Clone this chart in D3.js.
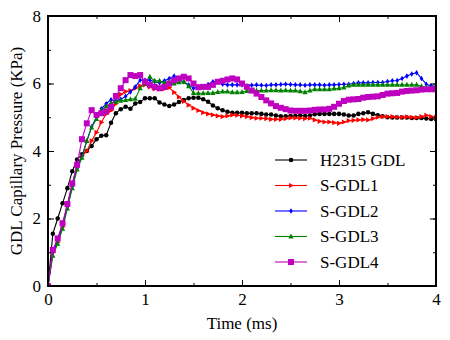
<!DOCTYPE html>
<meta charset="utf-8">
<style>
body { margin: 0; background: #fff; }
svg text { font-family: "Liberation Serif", serif; }
</style>
<body>
<svg id="chart" width="450" height="340"></svg>
<script src="https://d3js.org/d3.v7.min.js"></script>
<script>

// time axis, sampled every 0.05 ms
const time = d3.range(0, 81).map(i => +(i * 0.05).toFixed(2))

const h2315 = [0,1.55,2.0,2.45,2.9,3.4,3.75,3.9,4.0,4.15,4.35,4.45,4.47,4.84,5.12,5.24,5.31,5.25,5.41,5.45,
  5.56,5.56,5.56,5.44,5.38,5.33,5.38,5.45,5.51,5.56,5.58,5.58,5.53,5.46,5.35,5.27,5.21,5.16,5.13,5.13,
  5.13,5.12,5.12,5.12,5.1,5.08,5.08,5.05,5.03,5.03,5.04,5.04,5.05,5.04,5.05,5.09,5.1,5.1,5.1,5.1,
  5.1,5.08,5.05,5.05,5.1,5.12,5.15,5.1,5.06,5.03,5.0,4.99,4.99,4.99,4.99,4.98,4.98,4.98,4.96,4.95,4.94]

const sgdl1 = [0,1.0,1.3,1.75,2.4,3.0,3.55,3.85,4.0,4.3,4.55,4.85,5.1,5.2,5.4,5.68,5.76,5.79,5.86,5.93,
  5.96,5.9,5.84,5.83,5.84,5.88,5.74,5.6,5.47,5.36,5.27,5.2,5.14,5.1,5.07,5.04,5.02,5.04,5.07,5.06,
  5.04,5.02,4.99,4.97,4.97,4.96,4.94,4.94,4.94,4.96,4.98,4.98,4.97,4.96,4.97,4.92,4.88,4.86,4.86,4.84,
  4.82,4.86,4.9,4.91,4.92,4.93,4.92,4.96,5.0,5.02,5.02,5.02,5.0,5.0,5.01,5.0,4.99,5.02,5.06,5.02,5.0]

const sgdl2 = [0,1.0,1.35,1.8,2.35,2.95,3.5,3.85,4.3,4.72,5.0,5.25,5.4,5.52,5.48,5.53,5.62,5.75,5.9,6.1,
  6.1,6.1,6.05,6.02,6.08,6.15,6.22,6.1,6.05,5.96,5.86,5.9,5.9,5.97,6.05,6.06,5.98,5.96,5.96,5.96,
  5.96,5.93,5.95,5.96,5.95,5.94,5.96,5.96,5.97,5.98,5.97,5.96,5.96,5.95,5.96,5.96,5.96,5.95,5.96,5.96,
  5.97,5.98,5.98,6.0,6.02,6.02,6.02,6.03,6.03,6.03,6.06,6.08,6.09,6.15,6.22,6.28,6.32,6.15,5.98,5.93,5.92]

const sgdl3 = [0,0.9,1.25,1.7,2.3,2.9,3.45,3.8,4.3,4.7,4.95,5.2,5.32,5.42,5.46,5.49,5.51,5.53,5.55,5.86,
  6.0,6.2,6.08,6.08,6.02,6.05,6.0,6.04,6.05,5.92,5.72,5.71,5.71,5.72,5.72,5.75,5.76,5.76,5.74,5.74,
  5.75,5.78,5.79,5.79,5.79,5.79,5.8,5.8,5.79,5.8,5.79,5.79,5.77,5.74,5.79,5.83,5.83,5.83,5.83,5.85,
  5.86,5.88,5.94,5.96,5.96,5.96,5.96,5.96,5.96,5.96,5.96,5.96,5.96,5.96,5.96,5.96,5.96,5.92,5.88,5.86,5.85]

const sgdl4 = [0,1.07,1.41,1.86,2.43,3.04,3.59,4.35,4.82,5.21,5.07,5.12,5.17,5.31,5.63,5.86,6.1,6.25,6.22,6.25,
  6.05,5.96,5.9,5.86,5.9,6.0,6.1,6.15,6.2,6.15,6.0,5.89,5.9,5.9,5.96,6.05,6.08,6.12,6.15,6.12,
  6.0,5.9,5.79,5.7,5.6,5.5,5.41,5.33,5.28,5.24,5.2,5.19,5.19,5.19,5.2,5.22,5.23,5.23,5.25,5.31,
  5.4,5.48,5.52,5.53,5.54,5.58,5.6,5.61,5.62,5.66,5.7,5.71,5.72,5.76,5.78,5.79,5.8,5.82,5.83,5.83,5.83]

const seriesNames = ["H2315 GDL", "S-GDL1", "S-GDL2", "S-GDL3", "S-GDL4"]
const xTicks = [0, 1, 2, 3, 4]
const yTicks = [0, 2, 4, 6, 8]

const series = [
  {name: seriesNames[0], values: h2315, color: "#000000", marker: "circle"},
  {name: seriesNames[1], values: sgdl1, color: "#ff0000", marker: "tri-right"},
  {name: seriesNames[2], values: sgdl2, color: "#0000ff", marker: "diamond"},
  {name: seriesNames[3], values: sgdl3, color: "#008000", marker: "tri-up"},
  {name: seriesNames[4], values: sgdl4, color: "#bf00bf", marker: "square"}
]

// no DejaVu Serif in the sandbox (it falls back to a sans), so use Liberation Serif a bit bigger
const font = "Liberation Serif, serif"
const fontSize = 17

const margin = {left: 48, right: 14, top: 16, bottom: 54}
const width = 450, height = 340

const svg = d3.select("#chart").attr("font-family", font)

const x = d3.scaleLinear().domain([0, 4]).range([margin.left, width - margin.right])
const y = d3.scaleLinear().domain([0, 8]).range([height - margin.bottom, margin.top])

svg.append("defs").append("clipPath").attr("id", "clip")
  .append("rect")
  .attr("x", x(0)).attr("y", y(8))
  .attr("width", x(4) - x(0)).attr("height", y(0) - y(8))

function markerPath(type) {
  switch (type) {
    case "circle": return d3.symbol(d3.symbolCircle, 16)()
    case "tri-right": return "M3,0L-2,-2.6L-2,2.6Z"
    case "diamond": return "M0,-2.8L1.8,0L0,2.8L-1.8,0Z"
    case "tri-up": return "M0,-3L2.6,2L-2.6,2Z"
    case "square": return "M-3,-3H3V3H-3Z"
  }
}

const line = d3.line()
  .x((d, i) => x(time[i]))
  .y(d => y(d))

const plot = svg.append("g").attr("clip-path", "url(#clip)")

series.forEach(s => {
  plot.append("path")
    .datum(s.values)
    .attr("fill", "none")
    .attr("stroke", s.color)
    .attr("stroke-width", 1.1)
    .attr("d", line)
  plot.append("g").selectAll("path")
    .data(s.values)
    .join("path")
    .attr("transform", (d, i) => `translate(${x(time[i])},${y(d)})`)
    .attr("d", markerPath(s.marker))
    .attr("fill", s.color)
})

// axes: ticks pointing inward on all four sides
const xMinor = d3.range(0, 4.01, 0.5)
const yMinor = d3.range(0, 8.01, 1)

function axisStyle(g) {
  g.attr("font-family", font).attr("font-size", fontSize)
  g.select(".domain").remove()
  g.selectAll(".tick line").attr("stroke", "#000").attr("stroke-width", 1)
  g.selectAll("text").attr("fill", "#000").attr("font-family", font)
}

svg.append("g")
  .attr("transform", `translate(0,${y(0)})`)
  .call(d3.axisBottom(x).tickValues(xMinor).tickSize(-3).tickFormat(""))
  .call(axisStyle)
svg.append("g")
  .attr("transform", `translate(0,${y(0)})`)
  .call(d3.axisBottom(x).tickValues(xTicks).tickSize(-6).tickPadding(7).tickFormat(d3.format("d")))
  .call(axisStyle)
svg.append("g")
  .attr("transform", `translate(0,${y(8)})`)
  .call(d3.axisTop(x).tickValues(xMinor).tickSize(-3).tickFormat(""))
  .call(axisStyle)
svg.append("g")
  .attr("transform", `translate(0,${y(8)})`)
  .call(d3.axisTop(x).tickValues(xTicks).tickSize(-6).tickFormat(""))
  .call(axisStyle)

svg.append("g")
  .attr("transform", `translate(${x(0)},0)`)
  .call(d3.axisLeft(y).tickValues(yMinor).tickSize(-3).tickFormat(""))
  .call(axisStyle)
svg.append("g")
  .attr("transform", `translate(${x(0)},0)`)
  .call(d3.axisLeft(y).tickValues(yTicks).tickSize(-6).tickPadding(7).tickFormat(d3.format("d")))
  .call(axisStyle)
svg.append("g")
  .attr("transform", `translate(${x(4)},0)`)
  .call(d3.axisRight(y).tickValues(yMinor).tickSize(-3).tickFormat(""))
  .call(axisStyle)
svg.append("g")
  .attr("transform", `translate(${x(4)},0)`)
  .call(d3.axisRight(y).tickValues(yTicks).tickSize(-6).tickFormat(""))
  .call(axisStyle)

svg.append("rect")
  .attr("x", x(0)).attr("y", y(8))
  .attr("width", x(4) - x(0)).attr("height", y(0) - y(8))
  .attr("fill", "none").attr("stroke", "#000").attr("stroke-width", 2)

svg.append("text")
  .attr("x", (x(0) + x(4)) / 2).attr("y", 329)
  .attr("text-anchor", "middle").attr("font-size", fontSize).attr("font-family", font)
  .text("Time (ms)")

svg.append("text")
  .attr("transform", `translate(22,${(y(0) + y(8)) / 2}) rotate(-90)`)
  .attr("text-anchor", "middle").attr("font-size", fontSize).attr("font-family", font)
  .text("GDL Capillary Pressure (KPa)")

// legend
const legend = svg.append("g").attr("transform", "translate(275,160)")
series.forEach((s, i) => {
  const g = legend.append("g").attr("transform", `translate(0,${i * 25.5})`)
  g.append("line").attr("x1", 0).attr("x2", 32).attr("stroke", s.color).attr("stroke-width", 1.1)
  g.append("path").attr("transform", "translate(16,0)").attr("d", markerPath(s.marker)).attr("fill", s.color)
  g.append("text").attr("x", 45).attr("dy", "0.35em")
    .attr("font-size", fontSize).attr("font-family", font)
    .text(s.name)
})

</script>
</body>
